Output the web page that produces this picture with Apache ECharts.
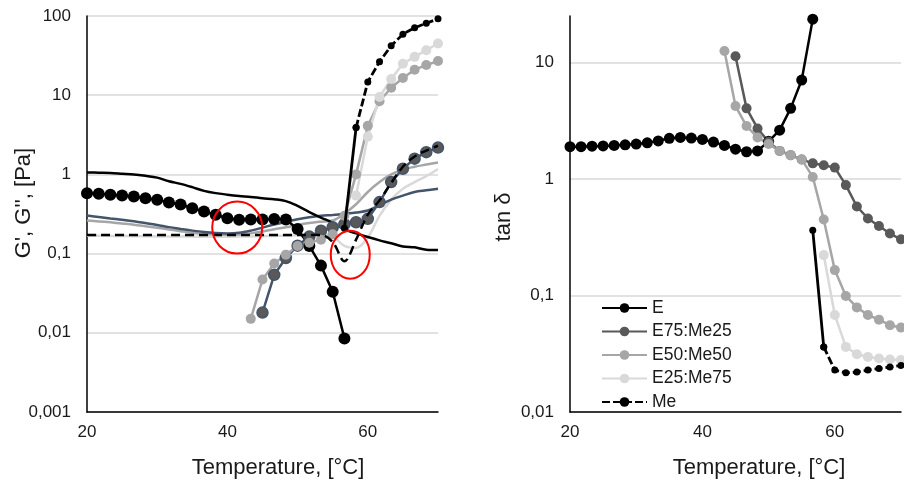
<!DOCTYPE html>
<html><head><meta charset="utf-8">
<script src="https://cdn.jsdelivr.net/npm/echarts@6/dist/echarts.min.js"></script>
<style>html,body{margin:0;padding:0;background:#fff}#c{width:904px;height:480px}</style>
</head><body><div id="c"></div>
<script>
// Temperatures (°C) of the measurement points
const T = [20,21.67,23.33,25,26.67,28.33,30,31.67,33.33,35,36.67,38.33,40,41.67,43.33,45,46.67,48.33,50,51.67,53.33,55,56.67,58.33,60,61.67,63.33,65,66.67,68.33,70];

// ---- Left panel: G' (markers) and G'' (lines), [Pa] ----
// each array starts at the temperature index given by its *_from value
const E_Gp_from = 0;
const E_Gp = [0.58,0.57,0.553,0.54,0.527,0.50,0.478,0.443,0.417,0.374,0.34,0.309,0.28,0.267,0.27,0.27,0.273,0.27,0.205,0.125,0.0705,0.033,0.0085];
const E_Gpp_from = 0;
const E_Gpp = [1.06,1.05,1.04,1.02,1.0,0.96,0.91,0.82,0.76,0.69,0.62,0.58,0.555,0.535,0.52,0.5,0.485,0.46,0.40,0.335,0.285,0.245,0.203,0.18,0.162,0.147,0.135,0.123,0.12,0.112,0.111];
const E75_Gp_from = 15;
const E75_Gp = [0.018,0.054,0.088,0.126,0.164,0.195,0.215,0.235,0.249,0.275,0.447,0.8,1.18,1.58,1.91,2.18];
const E75_Gpp_from = 0;
const E75_Gpp = [0.303,0.29,0.278,0.268,0.256,0.243,0.23,0.216,0.205,0.195,0.187,0.182,0.18,0.183,0.195,0.213,0.233,0.252,0.272,0.288,0.30,0.308,0.318,0.33,0.35,0.41,0.48,0.54,0.6,0.63,0.66];
const E50_Gp_from = 14;
const E50_Gp = [0.015,0.047,0.075,0.097,0.125,0.137,0.15,0.175,0.3,1.0,4.1,8.4,12.4,16.5,21,24,27];
const E50_Gpp_from = 0;
const E50_Gpp = [0.262,0.255,0.248,0.24,0.232,0.222,0.212,0.202,0.192,0.183,0.177,0.174,0.173,0.174,0.18,0.19,0.203,0.215,0.23,0.243,0.253,0.262,0.32,0.42,0.6,0.8,1.0,1.15,1.25,1.33,1.41];
const E25_Gp_from = 23;
const E25_Gp = [0.54,3.0,9.5,16,25,30.5,37,45];
const E25_Gpp_from = 0;
const E25_Gpp = [0.168,0.168,0.167,0.167,0.166,0.166,0.165,0.165,0.164,0.164,0.163,0.163,0.163,0.164,0.165,0.166,0.167,0.168,0.17,0.175,0.178,0.165,0.125,0.118,0.16,0.3,0.48,0.66,0.8,0.95,1.17];
const Me_Gp_from = 22;
const Me_Gp = [0.209,3.9,14.7,26.5,42,59,71,81,92];
const Me_Gpp_from = 0;
const Me_Gpp = [0.172,0.172,0.172,0.172,0.172,0.172,0.172,0.172,0.172,0.172,0.172,0.172,0.172,0.172,0.172,0.172,0.172,0.172,0.172,0.172,0.172,0.14,0.08,0.15,0.31,0.47,0.78,1.25,1.68,2.0,2.3];

// ---- Right panel: tan δ ----
const E_tan_from = 0;
const E_tan = [1.89,1.89,1.91,1.92,1.94,1.96,1.99,2.04,2.12,2.23,2.27,2.24,2.18,2.07,1.94,1.80,1.71,1.74,2.1,2.62,4.03,7.05,23.5];
const E75_tan_from = 15;
const E75_tan = [11.3,4.03,2.71,2.08,1.74,1.6,1.47,1.36,1.31,1.25,0.885,0.58,0.458,0.394,0.34,0.303];
const E50_tan_from = 14;
const E50_tan = [12.5,4.22,2.84,2.27,1.99,1.74,1.6,1.47,1.04,0.449,0.165,0.099,0.079,0.068,0.062,0.0556,0.053];
const E25_tan_from = 23;
const E25_tan = [0.222,0.068,0.0362,0.0313,0.0297,0.0288,0.0282,0.028];
const Me_tan_from = 22;
const Me_tan = [0.363,0.0362,0.0229,0.0217,0.022,0.0229,0.0236,0.0243,0.0251];

const legendNames = ['E','E75:Me25','E50:Me50','E25:Me75','Me'];
const xTickStep = 20;
// annotation ellipses (data coordinates of centres) on the left panel
const circleCentres = [[41.4, 0.213], [57.5, 0.097]];

function pairs(vals, from) { return vals.map((v, i) => [T[from + i], v]); }

const chart = echarts.init(document.getElementById('c'));
const txt = '#1a1a1a';
const fmt = v => String(+(+v).toPrecision(3)).replace('.', ',');

function xAx(gi, pad) {
  return {
    gridIndex: gi, type: 'value', min: 20, max: 70, interval: xTickStep,
    name: 'Temperature, [°C]', nameLocation: 'middle', nameGap: 45, nameMoveOverlap: false,
    nameTextStyle: { fontSize: 22, color: txt, fontFamily: 'Liberation Sans', padding: [0, 0, 0, pad] },
    axisLine: { show: true, lineStyle: { color: '#000', width: 1.5 } },
    axisTick: { show: false }, splitLine: { show: false },
    axisLabel: { fontSize: 17, color: txt, fontFamily: 'Liberation Sans', margin: 12, showMaxLabel: false }
  };
}
function yAx(gi, min, max, name, gap, pad) {
  return {
    gridIndex: gi, type: 'log', logBase: 10, min: min, max: max,
    name: name, nameLocation: 'middle', nameGap: gap, nameRotate: 90, nameMoveOverlap: false,
    nameTextStyle: { fontSize: 22, color: txt, fontFamily: 'Liberation Sans', padding: pad },
    axisLine: { show: true, lineStyle: { color: '#000', width: 1.5 } },
    axisTick: { show: false },
    splitLine: { show: true, showMaxLine: gi === 0, lineStyle: { color: '#d9d9d9', width: 1.5 } },
    axisLabel: { fontSize: 17, color: txt, fontFamily: 'Liberation Sans', margin: 16, formatter: fmt, showMaxLabel: gi === 0 }
  };
}

function lineS(name, gi, data, color, extra) {
  return Object.assign({
    name: name, type: 'line', xAxisIndex: gi, yAxisIndex: gi, data: data,
    showSymbol: false, smooth: 0.35, lineStyle: { color: color, width: 2.5 },
    itemStyle: { color: color }, z: 2
  }, extra || {});
}
function dotS(name, gi, data, color, size, extra) {
  return Object.assign({
    name: name, type: 'line', xAxisIndex: gi, yAxisIndex: gi, data: data,
    symbol: 'circle', symbolSize: size, showSymbol: true, showAllSymbol: true,
    lineStyle: { color: color, width: 2.5 }, itemStyle: { color: color }, z: 3
  }, extra || {});
}

const meGp = pairs(Me_Gp, Me_Gp_from);
const meTan = pairs(Me_tan, Me_tan_from);

const series = [
  lineS("E25:Me75 G''", 0, pairs(E25_Gpp, E25_Gpp_from), '#d9d9d9'),
  lineS("E50:Me50 G''", 0, pairs(E50_Gpp, E50_Gpp_from), '#a6a6a6'),
  lineS("E75:Me25 G''", 0, pairs(E75_Gpp, E75_Gpp_from), '#44546a'),
  lineS("E G''", 0, pairs(E_Gpp, E_Gpp_from), '#000000'),
  dotS("E G'", 0, pairs(E_Gp, E_Gp_from), '#000000', 12),
  dotS("E75:Me25 G'", 0, pairs(E75_Gp, E75_Gp_from), '#595959', 11,
       { lineStyle: { color: '#44546a', width: 2.5 }, itemStyle: { color: '#595959', borderColor: '#44546a', borderWidth: 1.5 } }),
  dotS("E50:Me50 G'", 0, pairs(E50_Gp, E50_Gp_from), '#a6a6a6', 10),
  dotS("E25:Me75 G'", 0, pairs(E25_Gp, E25_Gp_from), '#d9d9d9', 10),
  lineS("Me G''", 0, pairs(Me_Gpp, Me_Gpp_from), '#000000', { lineStyle: { color: '#000', width: 2.5, type: [9, 5] }, z: 4 }),
  dotS("Me G' start", 0, meGp.slice(0, 2), '#000000', 7, { lineStyle: { color: '#000', width: 2.8 }, z: 5 }),
  dotS("Me G'", 0, meGp.slice(1), '#000000', 7, { lineStyle: { color: '#000', width: 2.8, type: [8, 3] }, z: 5 }),

  dotS('E', 1, pairs(E_tan, E_tan_from), '#000000', 11),
  dotS('E75:Me25', 1, pairs(E75_tan, E75_tan_from), '#595959', 10),
  dotS('E50:Me50', 1, pairs(E50_tan, E50_tan_from), '#a6a6a6', 10),
  dotS('E25:Me75', 1, pairs(E25_tan, E25_tan_from), '#d9d9d9', 10),
  dotS('Me start', 1, meTan.slice(0, 2), '#000000', 7, { lineStyle: { color: '#000', width: 2.8 }, z: 5 }),
  dotS('Me', 1, meTan.slice(1), '#000000', 7, { lineStyle: { color: '#000', width: 2.8, type: [8, 3] }, z: 5 })
];

chart.setOption({
  animation: false,
  backgroundColor: '#fff',
  textStyle: { fontFamily: 'Liberation Sans' },
  grid: [
    { left: 87, top: 16, width: 351, height: 396, outerBoundsMode: 'none', containLabel: false },
    { left: 570, top: 16, width: 331, height: 396, outerBoundsMode: 'none', containLabel: false }
  ],
  xAxis: [xAx(0, 31), xAx(1, 47)],
  yAxis: [
    yAx(0, 0.001, 100, "G', G'', [Pa]", 52, [0, 0, 0, 22]),
    yAx(1, 0.01, 25, 'tan δ', 55, [0, 6, 0, 0])
  ],
  legend: {
    data: legendNames, orient: 'vertical', left: 596, top: 294,
    itemWidth: 45, itemHeight: 12, itemGap: 5.5,
    textStyle: { fontSize: 17.5, color: txt, fontFamily: 'Liberation Sans' }
  },
  series: series
});

const rxy = [[25, 26], [19.5, 24]];
chart.setOption({
  graphic: circleCentres.map((c, i) => {
    const p = chart.convertToPixel({ gridIndex: 0 }, c);
    return { type: 'ellipse', shape: { cx: p[0], cy: p[1], rx: rxy[i][0], ry: rxy[i][1] },
             style: { fill: 'none', stroke: '#ff0000', lineWidth: 2 }, z: 100 };
  })
});
</script></body></html>
